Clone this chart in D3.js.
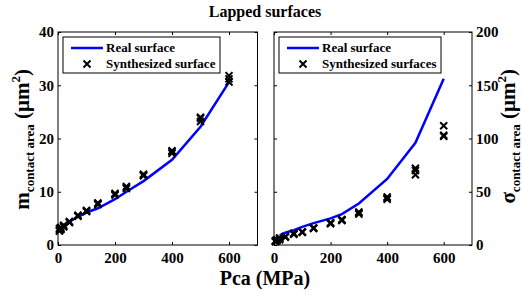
<!DOCTYPE html>
<html>
<head>
<meta charset="utf-8">
<script src="https://cdn.jsdelivr.net/npm/d3@7"></script>
<style>
  body { margin: 0; background: #fff; }
  svg { display: block; }
  svg text { font-family: "Liberation Serif", "Times New Roman", serif; font-weight: bold; }
</style>
</head>
<body>
<div id="chart"></div>
<script>
// data
const pressure = [5, 10, 20, 40, 70, 100, 140, 200, 240, 300, 400, 500, 600]
const realP = [10, 20, 40, 70, 100, 140, 200, 240, 300, 400, 500, 600]
const realMean = [3.0, 3.6, 4.4, 5.3, 6.1, 6.9, 8.6, 10.0, 12.0, 16.0, 22.2, 30.6]
const realSigmaP = [20, 40, 70, 100, 140, 200, 240, 300, 400, 500, 600]
const realSigma = [9, 11.5, 14, 17, 20.5, 25, 29, 39, 62, 96, 156]
const synthMean = [
  [2.6, 2.9, 3.4, 4.3, 5.4, 6.3, 7.6, 9.4, 10.6, 13.0, 17.2, 23.2, 30.6],
  [3.1, 3.0, 3.7, 4.4, 5.5, 6.5, 7.9, 9.7, 11.0, 13.3, 17.7, 23.8, 31.2],
  [2.8, 3.3, 3.5, 4.2, 5.6, 6.4, 7.8, 9.6, 10.8, 13.1, 17.5, 24.0, 31.8]
]
const synthSigma = [
  [3, 4, 5, 7.5, 10.5, 12, 15.5, 20, 23, 29, 43, 66, 102],
  [4, 5, 6.5, 8, 11, 12.5, 16, 21, 24, 31, 45, 70, 103],
  [3.5, 4.5, 6, 7.5, 10, 12, 16, 20.5, 23.5, 30, 44, 72, 112]
]
const xTicks = [0, 200, 400, 600]
const meanTicks = [0, 10, 20, 30, 40]
const sigmaTicks = [0, 50, 100, 150, 200]

const svgWidth = 522
const svgHeight = 296
const plotTop = 32, plotBottom = 245
const serif = '"Liberation Serif", "Times New Roman", serif'

const svg = d3.select('#chart').append('svg').attr('width', svgWidth).attr('height', svgHeight)

// title
svg.append('text').attr('x', 265).attr('y', 17).attr('text-anchor', 'middle')
  .attr('font-size', 16).text('Lapped surfaces')

// x label
svg.append('text').attr('x', 265).attr('y', 285).attr('text-anchor', 'middle')
  .attr('font-size', 20).text('Pca (MPa)')

const xMark = 'M-3.5,-3.5L3.5,3.5M-3.5,3.5L3.5,-3.5'

function panel(cfg) {
  const x = d3.scaleLinear().domain([0, 700]).range([cfg.left, cfg.right])
  const y = d3.scaleLinear().domain(cfg.yDomain).range([plotBottom, plotTop])
  const g = svg.append('g')

  // axes (ticks inside, box around)
  const styleAxis = sel => {
    sel.attr('font-family', serif).attr('font-size', 15)
    sel.select('.domain').remove()
    sel.selectAll('line').attr('stroke', '#000')
    sel.selectAll('text').attr('fill', '#000')
  }
  g.append('g').attr('transform', `translate(0,${plotBottom})`)
    .call(d3.axisBottom(x).tickValues(xTicks).tickSizeInner(-3).tickPadding(7).tickFormat(d3.format('d')))
    .call(styleAxis)
  g.append('g').attr('transform', `translate(0,${plotTop})`)
    .call(d3.axisTop(x).tickValues(xTicks).tickSizeInner(-3).tickFormat(''))
    .call(styleAxis)
  const yLabelAxis = cfg.side === 'left' ? d3.axisLeft(y) : d3.axisRight(y)
  const yOtherAxis = cfg.side === 'left' ? d3.axisRight(y) : d3.axisLeft(y)
  g.append('g').attr('transform', `translate(${cfg.side === 'left' ? cfg.left : cfg.right},0)`)
    .call(yLabelAxis.tickValues(cfg.yTicks).tickSizeInner(-3).tickPadding(4).tickFormat(d3.format('d')))
    .call(styleAxis)
  g.append('g').attr('transform', `translate(${cfg.side === 'left' ? cfg.right : cfg.left},0)`)
    .call(yOtherAxis.tickValues(cfg.yTicks).tickSizeInner(-3).tickFormat(''))
    .call(styleAxis)
  g.append('rect').attr('x', cfg.left).attr('y', plotTop)
    .attr('width', cfg.right - cfg.left).attr('height', plotBottom - plotTop)
    .attr('fill', 'none').attr('stroke', '#000').attr('stroke-width', 1)

  // real surface line
  const line = d3.line().x(d => x(d[0])).y(d => y(d[1]))
  g.append('path').datum(cfg.realP.map((p, i) => [p, cfg.real[i]]))
    .attr('d', line).attr('fill', 'none').attr('stroke', '#0000ff').attr('stroke-width', 2.5)

  // synthesized markers
  cfg.synth.forEach(series => {
    g.selectAll(null).data(series.map((v, i) => [pressure[i], v])).enter().append('path')
      .attr('transform', d => `translate(${x(d[0])},${y(d[1])})`)
      .attr('d', xMark).attr('stroke', '#000').attr('stroke-width', 2).attr('fill', 'none')
  })

  // legend
  const lx = cfg.left + 5
  const leg = g.append('g')
  leg.append('rect').attr('x', lx).attr('y', 37).attr('width', cfg.legendW).attr('height', 36)
    .attr('fill', '#fff').attr('stroke', '#000').attr('stroke-width', 1)
  leg.append('line').attr('x1', lx + 8).attr('x2', lx + 40).attr('y1', 48).attr('y2', 48)
    .attr('stroke', '#0000ff').attr('stroke-width', 2.5)
  leg.append('path').attr('transform', `translate(${lx + 24},64)`).attr('d', xMark)
    .attr('stroke', '#000').attr('stroke-width', 2)
  leg.append('text').attr('x', lx + 43).attr('y', 52).attr('font-size', 13).text('Real surface')
  leg.append('text').attr('x', lx + 43).attr('y', 68).attr('font-size', 13).text(cfg.synthLabel)

  // y label
  const lab = svg.append('text').attr('transform', `translate(${cfg.labelX},69) rotate(-90)`)
    .attr('text-anchor', 'end').attr('font-size', 21)
  lab.append('tspan').text(cfg.symbol)
  lab.append('tspan').attr('font-size', 13).attr('dy', 5).text('contact area')
  lab.append('tspan').attr('dy', -5).text(' (\u03bcm')
  lab.append('tspan').attr('font-size', 13).attr('dy', -9).text('2')
  lab.append('tspan').attr('dy', 9).text(')')
}

panel({
  left: 58, right: 257.5, yDomain: [0, 40], yTicks: meanTicks, side: 'left',
  realP: realP, real: realMean, synth: synthMean, legendW: 157,
  synthLabel: 'Synthesized surface', symbol: 'm', labelX: 29
})
panel({
  left: 274, right: 472, yDomain: [0, 200], yTicks: sigmaTicks, side: 'right',
  realP: realSigmaP, real: realSigma, synth: synthSigma, legendW: 162,
  synthLabel: 'Synthesized surfaces', symbol: '\u03c3', labelX: 515
})
</script>
</body>
</html>
